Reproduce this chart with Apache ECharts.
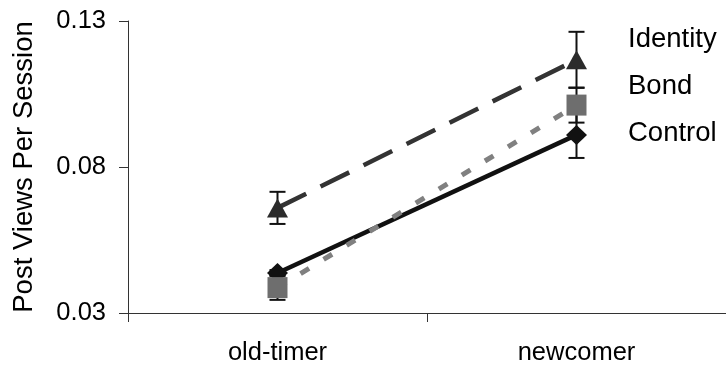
<!DOCTYPE html>
<html>
<head>
<meta charset="utf-8">
<script src="https://cdn.jsdelivr.net/npm/echarts@6/dist/echarts.min.js"></script>
<style>
  html, body { margin: 0; padding: 0; background: #fff; }
  #chart { width: 726px; height: 372px; }
</style>
</head>
<body>
<div id="chart"></div>
<script>
// chart data
var categories = ['old-timer', 'newcomer'];
var yTicks = [0.03, 0.08, 0.13];
var identityVals = [0.066, 0.1167];
var identityErr = [0.0055, 0.0096];
var bondVals = [0.0387, 0.1012];
var bondErr = [0.0042, 0.006];
var controlVals = [0.0437, 0.091];
var controlErr = [0.001, 0.0079];

var font = 'Liberation Sans, Arial, sans-serif';

/**
 * error bar rows: [category index, value, error]
 */
function errRows(vals, errs) {
    var rows = [];
    for (var i = 0; i < vals.length; i++) {
        rows.push([i, vals[i], errs[i]]);
    }
    return rows;
}

function renderErr(params, api) {
    var x = api.value(0);
    var v = api.value(1);
    var e = api.value(2);
    var hi = api.coord([x, v + e]);
    var lo = api.coord([x, v - e]);
    var half = 8;
    var style = { stroke: '#111', lineWidth: 2 };
    return {
        type: 'group',
        children: [
            { type: 'line', shape: { x1: hi[0], y1: hi[1], x2: lo[0], y2: lo[1] }, style: style },
            { type: 'line', shape: { x1: hi[0] - half, y1: hi[1], x2: hi[0] + half, y2: hi[1] }, style: style },
            { type: 'line', shape: { x1: lo[0] - half, y1: lo[1], x2: lo[0] + half, y2: lo[1] }, style: style }
        ]
    };
}

var myChart = echarts.init(document.getElementById('chart'));

var option = {
    animation: false,
    backgroundColor: '#fff',
    textStyle: { fontFamily: font },
    grid: { left: 128, right: -2, top: 21, bottom: 59 },
    legend: {
        data: ['Identity', 'Bond', 'Control'],
        orient: 'vertical',
        left: 622,
        top: 25,
        padding: 0,
        itemGap: 19,
        itemWidth: 0,
        itemHeight: 0,
        selectedMode: false,
        itemStyle: { opacity: 0 },
        lineStyle: { opacity: 0 },
        textStyle: { fontFamily: font, fontSize: 27.5, lineHeight: 27, color: '#000', padding: 0 }
    },
    xAxis: {
        type: 'category',
        data: categories,
        boundaryGap: true,
        axisLine: { lineStyle: { color: '#333', width: 1 } },
        axisTick: { show: true, length: 9, lineStyle: { color: '#333' } },
        axisLabel: { fontFamily: font, fontSize: 25.5, color: '#000', margin: 27 },
        splitLine: { show: false }
    },
    yAxis: {
        type: 'value',
        min: yTicks[0],
        max: yTicks[yTicks.length - 1],
        interval: yTicks[1] - yTicks[0],
        name: 'Post Views Per Session',
        nameLocation: 'middle',
        nameGap: 90,
        nameTextStyle: { fontFamily: font, fontSize: 27.5, color: '#000' },
        axisLine: { show: true, lineStyle: { color: '#333', width: 1 } },
        axisTick: { show: true, length: 9, lineStyle: { color: '#333' } },
        axisLabel: {
            fontFamily: font, fontSize: 25.5, color: '#000', margin: 22,
            formatter: function (v) { return v.toFixed(2); }
        },
        splitLine: { show: false }
    },
    series: [
        {
            type: 'custom', name: 'errControl', renderItem: renderErr, z: 1,
            data: errRows(controlVals, controlErr)
        },
        {
            type: 'custom', name: 'errBond', renderItem: renderErr, z: 1,
            data: errRows(bondVals, bondErr)
        },
        {
            type: 'custom', name: 'errIdentity', renderItem: renderErr, z: 1,
            data: errRows(identityVals, identityErr)
        },
        {
            name: 'Control', type: 'line', data: controlVals, z: 3,
            symbol: 'diamond', symbolSize: [21, 20],
            itemStyle: { color: '#111' },
            lineStyle: { color: '#111', width: 4.5, type: 'solid' }
        },
        {
            name: 'Bond', type: 'line', data: bondVals, z: 4,
            symbol: 'rect', symbolSize: [20, 21],
            itemStyle: { color: '#6e6e6e' },
            lineStyle: { color: '#808080', width: 5, type: [10, 17] }
        },
        {
            name: 'Identity', type: 'line', data: identityVals, z: 5,
            symbol: 'triangle', symbolSize: [21, 19],
            itemStyle: { color: '#2b2b2b' },
            lineStyle: { color: '#333', width: 4.5, type: [32, 16] }
        }
    ]
};

myChart.setOption(option);
</script>
</body>
</html>
